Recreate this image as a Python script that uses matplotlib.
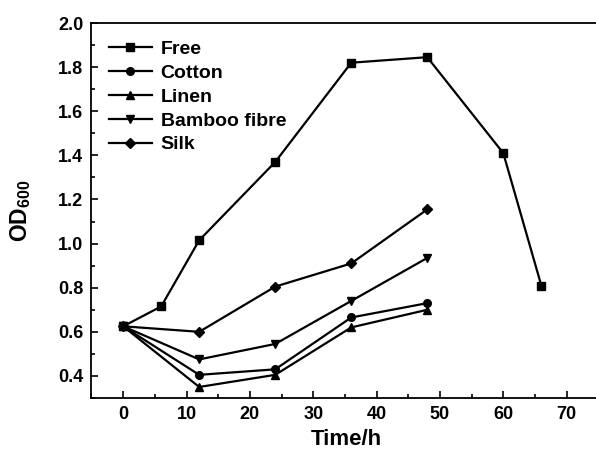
import matplotlib
matplotlib.use('Agg')
import matplotlib.pyplot as plt
from matplotlib.ticker import MultipleLocator

plt.rcParams['font.family'] = ['Liberation Sans', 'DejaVu Sans']
plt.rcParams['font.weight'] = 'bold'
plt.rcParams['mathtext.fontset'] = 'custom'
plt.rcParams['mathtext.rm'] = 'Liberation Sans:bold'
plt.rcParams['mathtext.bf'] = 'Liberation Sans:bold'

# growth curves
time_free = [0, 6, 12, 24, 36, 48, 60, 66]
od_free = [0.625, 0.715, 1.015, 1.37, 1.82, 1.845, 1.41, 0.81]

time_fabric = [0, 12, 24, 36, 48]
od_cotton = [0.625, 0.405, 0.43, 0.665, 0.73]
od_linen = [0.625, 0.35, 0.405, 0.62, 0.70]
od_bamboo = [0.625, 0.475, 0.545, 0.74, 0.935]
od_silk = [0.625, 0.60, 0.805, 0.91, 1.155]

x_ticks = [0, 10, 20, 30, 40, 50, 60, 70]
y_ticks = [0.4, 0.6, 0.8, 1.0, 1.2, 1.4, 1.6, 1.8, 2.0]

fig = plt.figure(figsize=(5.96, 4.54), dpi=100)
ax = fig.add_axes([91.5 / 596, 56 / 454, 510 / 596, 375 / 454])

style = dict(color='black', linewidth=1.6, markersize=5.5)
ax.plot(time_free, od_free, marker='s', label='Free', **style)
ax.plot(time_fabric, od_cotton, marker='o', label='Cotton', **style)
ax.plot(time_fabric, od_linen, marker='^', label='Linen', **style)
ax.plot(time_fabric, od_bamboo, marker='v', label='Bamboo fibre', **style)
ax.plot(time_fabric, od_silk, marker='D', label='Silk', **style)

ax.set_xlim(-5, 75.5)
ax.set_ylim(0.3, 2.0)
ax.set_xticks(x_ticks)
ax.set_yticks(y_ticks)
ax.set_yticklabels([f'{v:.1f}' for v in y_ticks])
ax.xaxis.set_minor_locator(MultipleLocator(5))
ax.yaxis.set_minor_locator(MultipleLocator(0.1))
ax.tick_params(which='both', direction='in', labelsize=13, width=1.2)
ax.tick_params(which='major', length=5, pad=6)
ax.tick_params(which='minor', length=3)
for s in ax.spines.values():
    s.set_linewidth(1.3)

ax.set_xlabel('Time/h', fontsize=16, fontweight='bold', labelpad=4)
ax.set_ylabel(r'$\mathbf{OD}_{\mathbf{600}}$', fontsize=16.5, labelpad=18)

ax.legend(loc='upper left', frameon=False, handlelength=2.2,
          handletextpad=0.45, labelspacing=0.32, borderaxespad=0.5,
          prop={'weight': 'bold', 'size': 14})

fig.savefig('out.png', dpi=100)
